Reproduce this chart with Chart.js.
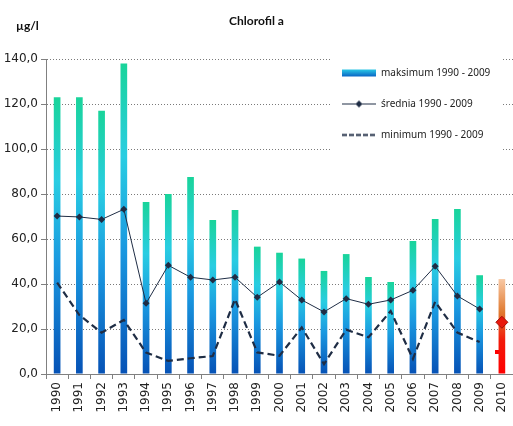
<!DOCTYPE html>
<html>
<head>
<meta charset="utf-8">
<script src="https://cdn.jsdelivr.net/npm/chart.js@4/dist/chart.umd.min.js"></script>
<style>
  html, body { margin: 0; padding: 0; background: #fff; }
  #wrap { width: 513px; height: 426px; }
</style>
</head>
<body>
<div id="wrap"><canvas id="chlorChart" width="513" height="426"></canvas></div>
<script>
const years = ['1990', '1991', '1992', '1993', '1994', '1995', '1996', '1997', '1998', '1999',
  '2000', '2001', '2002', '2003', '2004', '2005', '2006', '2007', '2008', '2009', '2010'];
const maxValues = [123, 123, 117, 138, 76.5, 80, 87.6, 68.4, 72.9, 56.6,
  53.9, 51.3, 45.8, 53.3, 43.1, 40.9, 59.1, 68.9, 73.3, 43.9, 42.2];
const meanValues = [70.2, 69.8, 68.7, 73.2, 31.4, 48.3, 43, 41.8, 43, 34.1,
  40.9, 32.9, 27.6, 33.5, 31, 32.9, 37.2, 47.9, 34.7, 28.9, null];
const minValues = [40.6, 26.2, 18.4, 24, 9.5, 5.8, 7, 8, 33.2, 9.6,
  8.1, 20.7, 4.4, 19.7, 16.3, 28, 6.7, 32.1, 18.4, 14.2, null];
const mean2010 = [null, null, null, null, null, null, null, null, null, null,
  null, null, null, null, null, null, null, null, null, null, 23];
const min2010 = [null, null, null, null, null, null, null, null, null, null,
  null, null, null, null, null, null, null, null, null, null, 9.7];
const legendLabels = ['maksimum 1990 - 2009', 'średnia 1990 - 2009', 'minimum 1990 - 2009'];

const lineColor = '#1f2d45';

// vertical gradient per bar, computed from the y scale
function barFill(ctx) {
  const chart = ctx.chart;
  const y = chart.scales.y;
  if (ctx.type !== 'data' || !y) return '#1a9ee0';
  const top = y.getPixelForValue(ctx.raw);
  const base = y.getPixelForValue(0);
  if (!isFinite(top) || !isFinite(base) || base - top < 1) return '#1a9ee0';
  const g = chart.ctx.createLinearGradient(0, top, 0, base);
  if (ctx.dataIndex === years.length - 1) {
    g.addColorStop(0, '#f8c8a4');
    g.addColorStop(0.35, '#e07a30');
    g.addColorStop(0.65, '#f21a0a');
    g.addColorStop(1, '#ff0000');
  } else {
    g.addColorStop(0, '#19d49a');
    g.addColorStop(0.3, '#29cde2');
    g.addColorStop(0.6, '#1a98e0');
    g.addColorStop(1, '#0652b6');
  }
  return g;
}

function icon(w, h, draw) {
  const c = document.createElement('canvas');
  c.width = w;
  c.height = h;
  draw(c.getContext('2d'));
  return c;
}

const maxIcon = icon(34, 9, c => {
  const g = c.createLinearGradient(0, 1, 0, 8);
  g.addColorStop(0, '#2bc9e6');
  g.addColorStop(1, '#0a64c4');
  c.fillStyle = g;
  c.fillRect(0, 1, 34, 7);
});
const meanIcon = icon(34, 9, c => {
  c.strokeStyle = lineColor;
  c.lineWidth = 1;
  c.beginPath(); c.moveTo(0, 4.5); c.lineTo(34, 4.5); c.stroke();
  c.fillStyle = lineColor;
  c.beginPath(); c.moveTo(17, 1); c.lineTo(20.5, 4.5); c.lineTo(17, 8); c.lineTo(13.5, 4.5); c.closePath(); c.fill();
});
const minIcon = icon(34, 9, c => {
  c.strokeStyle = lineColor;
  c.lineWidth = 2;
  c.setLineDash([5, 2]);
  c.beginPath(); c.moveTo(0, 4.5); c.lineTo(34, 4.5); c.stroke();
});
// short red tick sitting left of the 2010 bar
const minMark = icon(14, 4, c => {
  c.fillStyle = '#ff0000';
  c.fillRect(0, 0, 7, 4);
});

const legendSpot = {
  id: 'legendSpot',
  afterLayout(chart) {
    const lg = chart.legend;
    lg.left = 321;
    lg.top = 47;
    lg.right = lg.left + lg.width;
    lg.bottom = lg.top + lg.height;
    chart.boxes.forEach(b => {
      if (b.options && b.options.text === 'µg/l') {
        b.left = 16;
        b.right = b.left + b.width;
      }
    });
  },
  afterDraw(chart) {
    const c = chart.ctx;
    c.save();
    c.fillStyle = '#fff';
    c.fillRect(332, 50, 171, 108);
    c.restore();
    chart.legend.draw();
  }
};

const ctx = document.getElementById('chlorChart').getContext('2d');
const chlorChart = new Chart(ctx, {
  type: 'bar',
  data: {
    labels: years,
    datasets: [
      {
        type: 'line',
        label: legendLabels[1],
        data: meanValues,
        borderColor: lineColor,
        borderWidth: 1,
        backgroundColor: lineColor,
        pointStyle: 'rectRot',
        pointRadius: 3.5,
        pointBorderWidth: 0,
        spanGaps: false,
        order: 1
      },
      {
        type: 'line',
        label: legendLabels[2],
        data: minValues,
        borderColor: lineColor,
        borderWidth: 2.2,
        borderDash: [7, 4],
        pointRadius: 0,
        order: 2
      },
      {
        type: 'line',
        label: 'średnia 2010',
        data: mean2010,
        backgroundColor: '#e8180c',
        borderColor: '#a01008',
        borderWidth: 1,
        pointStyle: 'rectRot',
        pointRadius: 6,
        showLine: false,
        order: 0
      },
      {
        type: 'bar',
        label: legendLabels[0],
        data: maxValues,
        backgroundColor: barFill,
        barPercentage: 0.3,
        categoryPercentage: 1,
        order: 3
      },
      {
        type: 'line',
        label: 'minimum 2010',
        data: min2010,
        pointStyle: minMark,
        showLine: false,
        order: 4
      }
    ]
  },
  plugins: [legendSpot],
  options: {
    responsive: false,
    animation: false,
    layout: { autoPadding: false, padding: 0 },
    plugins: {
      title: {
        display: true,
        text: 'Chlorofil a',
        color: '#111',
        font: { family: 'Lato', size: 12, weight: 'bold', lineHeight: 1 },
        padding: { top: 15, bottom: 0 }
      },
      subtitle: {
        display: true,
        text: 'µg/l',
        align: 'start',
        color: '#111',
        font: { family: 'Lato', size: 12, weight: 'bold', lineHeight: 1 },
        padding: { top: -7, bottom: 27 }
      },
      legend: {
        position: 'chartArea',
        align: 'start',
        labels: {
          usePointStyle: true,
          pointStyleWidth: 34,
          boxHeight: 11,
          padding: 21,
          color: '#222',
          font: { family: 'Noto Sans', size: 10 },
          generateLabels: () => [
            { text: legendLabels[0], pointStyle: maxIcon, datasetIndex: 3, fontColor: '#222' },
            { text: legendLabels[1], pointStyle: meanIcon, datasetIndex: 0, fontColor: '#222' },
            { text: legendLabels[2], pointStyle: minIcon, datasetIndex: 1, fontColor: '#222' }
          ]
        }
      },
      tooltip: { enabled: false }
    },
    scales: {
      x: {
        grid: {
          offset: true,
          drawOnChartArea: false,
          drawTicks: true,
          tickLength: 5,
          color: '#808080'
        },
        border: { color: '#808080' },
        ticks: {
          autoSkip: false,
          minRotation: 90,
          maxRotation: 90,
          padding: 3,
          color: '#222',
          font: { family: 'DejaVu Sans', size: 12 }
        },
        afterFit(scale) {
          scale.height = 52;
          scale.paddingLeft = 0;
          scale.paddingRight = 0;
        }
      },
      y: {
        min: 0,
        max: 140,
        ticks: {
          stepSize: 20,
          padding: 3,
          color: '#222',
          font: { family: 'DejaVu Sans', size: 12 },
          callback: v => v.toFixed(1).replace('.', ',')
        },
        grid: {
          color: '#7a7a7a',
          tickColor: '#808080',
          tickLength: 5
        },
        border: { color: '#808080', dash: [1, 2] },
        afterFit(scale) { scale.width = 46; }
      }
    }
  }
});
</script>
</body>
</html>
